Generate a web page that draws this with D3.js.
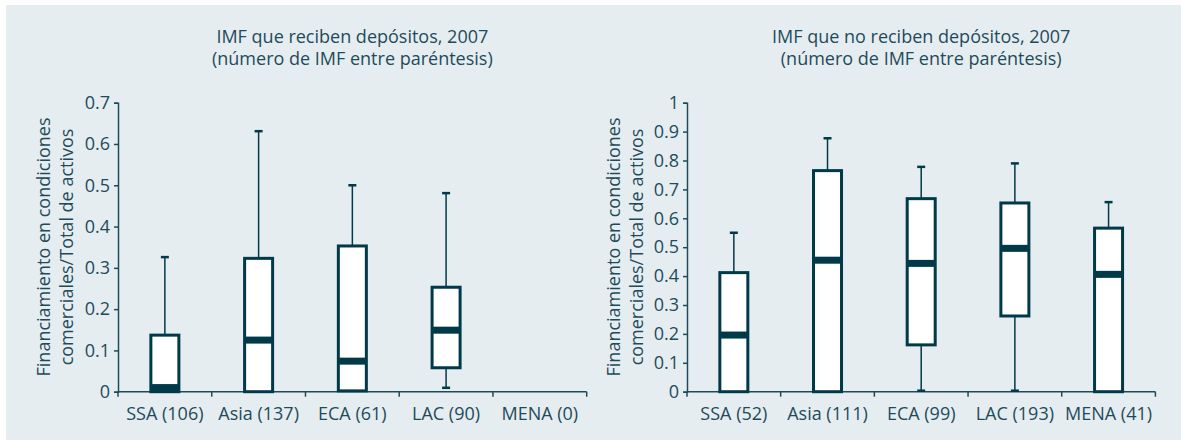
<!DOCTYPE html>
<html>
<head>
<meta charset="utf-8">
<script src="https://cdn.jsdelivr.net/npm/d3@7"></script>
<style>
  body { margin: 0; background: #fff; }
  svg { display: block; font-family: 'Open Sans', Lato, sans-serif; }
</style>
</head>
<body>
<div class="vis-boxplot"></div>
<script>
// left panel: IMF que reciben depósitos
const regionsLeft = ['SSA (106)', 'Asia (137)', 'ECA (61)', 'LAC (90)', 'MENA (0)'];
const hiLeft = [0.326, 0.631, 0.500, 0.481, null];
const q3Left = [0.137, 0.323, 0.353, 0.253, null];
const medLeft = [0.010, 0.125, 0.074, 0.149, null];
const q1Left = [0.000, 0.000, 0.002, 0.058, null];
const loLeft = [0.000, 0.000, 0.000, 0.007, null];
const ticksLeft = [0, 0.1, 0.2, 0.3, 0.4, 0.5, 0.6, 0.7];

// right panel: IMF que no reciben depósitos
const regionsRight = ['SSA (52)', 'Asia (111)', 'ECA (99)', 'LAC (193)', 'MENA (41)'];
const hiRight = [0.550, 0.877, 0.778, 0.790, 0.656];
const q3Right = [0.412, 0.765, 0.668, 0.653, 0.566];
const medRight = [0.196, 0.455, 0.444, 0.496, 0.406];
const q1Right = [0.000, 0.000, 0.162, 0.262, 0.000];
const loRight = [0.000, 0.000, 0.000, 0.000, 0.000];
const ticksRight = [0, 0.1, 0.2, 0.3, 0.4, 0.5, 0.6, 0.7, 0.8, 0.9, 1];

const yLabel = ['Financiamiento en condiciones', 'comerciales/Total de activos'];

const textColor = '#1e4b5a';
const boxColor = '#003a48';

const svg = d3.select('.vis-boxplot')
    .append('svg')
    .attr('width', 1181)
    .attr('height', 441);

svg.append('rect')
    .attr('x', 6).attr('y', 5)
    .attr('width', 1175).attr('height', 435)
    .attr('fill', '#e6edf1');

const drawPanel = (opts) => {
    const x = d3.scaleBand()
        .domain(opts.regions)
        .range([opts.left, opts.right])
        .padding(0);
    const y = d3.scaleLinear()
        .domain([0, opts.max])
        .range([391.7, 102.7]);

    const g = svg.append('g');
    const titleX = (opts.left + opts.right) / 2;

    // title, two lines
    g.selectAll('.title')
        .data(opts.title)
        .enter().append('text')
        .attr('x', titleX)
        .attr('y', (d, i) => 43 + i * 22)
        .attr('text-anchor', 'middle')
        .attr('fill', textColor)
        .style('font-size', '18px')
        .text(d => d);

    // y label
    const yl = g.append('text')
        .attr('transform', 'translate(' + opts.labelX + ',' + 247 + ') rotate(-90)')
        .attr('text-anchor', 'middle')
        .attr('fill', textColor)
        .style('font-size', '18px');
    yl.append('tspan').attr('x', 0).attr('y', 0).text(yLabel[0]);
    yl.append('tspan').attr('x', 0).attr('y', 23).text(yLabel[1]);

    // y axis
    const yAxis = g.append('g')
        .attr('transform', 'translate(' + opts.left + ',0)')
        .call(d3.axisLeft(y).tickValues(opts.ticks).tickSize(4).tickPadding(4)
            .tickFormat(d => d3.format('~g')(d)));
    yAxis.select('.domain').attr('stroke', textColor).attr('stroke-width', 1.5);
    yAxis.selectAll('.tick line').attr('stroke', textColor).attr('stroke-width', 1.5);
    yAxis.selectAll('.tick text').attr('fill', textColor)
        .style('font-size', '18px').style('font-family', "'Open Sans', sans-serif");

    // x axis with ticks at band boundaries
    const xAxis = g.append('g').attr('transform', 'translate(0,' + y(0) + ')');
    xAxis.append('line')
        .attr('x1', opts.left).attr('x2', opts.right)
        .attr('stroke', textColor).attr('stroke-width', 1.5);
    const bounds = opts.regions.map(r => x(r)).concat([opts.right]);
    xAxis.selectAll('.xt')
        .data(bounds)
        .enter().append('line')
        .attr('x1', d => d).attr('x2', d => d)
        .attr('y1', 0).attr('y2', 5)
        .attr('stroke', textColor).attr('stroke-width', 1.5);
    xAxis.selectAll('.xl')
        .data(opts.regions)
        .enter().append('text')
        .attr('x', d => x(d) + x.bandwidth() / 2)
        .attr('y', 28)
        .attr('text-anchor', 'middle')
        .attr('fill', textColor)
        .style('font-size', '18px')
        .text(d => d);

    const bw = 28;
    opts.regions.forEach((r, i) => {
        if (opts.hi[i] == null) return;
        const cx = x(r) + x.bandwidth() / 2;
        const b = g.append('g');
        // upper whisker
        b.append('line')
            .attr('x1', cx).attr('x2', cx)
            .attr('y1', y(opts.hi[i])).attr('y2', y(opts.q3[i]))
            .attr('stroke', boxColor).attr('stroke-width', 1.5);
        b.append('line')
            .attr('x1', cx - 4).attr('x2', cx + 4)
            .attr('y1', y(opts.hi[i])).attr('y2', y(opts.hi[i]))
            .attr('stroke', boxColor).attr('stroke-width', 2.5);
        // lower whisker
        if (opts.q1[i] > opts.lo[i]) {
            b.append('line')
                .attr('x1', cx).attr('x2', cx)
                .attr('y1', y(opts.q1[i])).attr('y2', y(opts.lo[i]))
                .attr('stroke', boxColor).attr('stroke-width', 1.5);
            b.append('line')
                .attr('x1', cx - 4).attr('x2', cx + 4)
                .attr('y1', y(opts.lo[i]) - 1).attr('y2', y(opts.lo[i]) - 1)
                .attr('stroke', boxColor).attr('stroke-width', 2.5);
        }
        // box
        b.append('rect')
            .attr('x', cx - bw / 2)
            .attr('y', y(opts.q3[i]))
            .attr('width', bw)
            .attr('height', y(opts.q1[i]) - y(opts.q3[i]))
            .attr('fill', '#fff')
            .attr('stroke', boxColor)
            .attr('stroke-width', 3);
        // median
        b.append('rect')
            .attr('x', cx - bw / 2)
            .attr('y', Math.min(y(opts.med[i]) - 3.5, y(0) - 7))
            .attr('width', bw)
            .attr('height', 7)
            .attr('fill', boxColor);
    });
};

drawPanel({
    regions: regionsLeft, hi: hiLeft, q3: q3Left, med: medLeft, q1: q1Left, lo: loLeft,
    ticks: ticksLeft, max: 0.7, left: 118, right: 586.7, labelX: 50,
    title: ['IMF que reciben depósitos, 2007', '(número de IMF entre paréntesis)']
});

drawPanel({
    regions: regionsRight, hi: hiRight, q3: q3Right, med: medRight, q1: q1Right, lo: loRight,
    ticks: ticksRight, max: 1, left: 687, right: 1155.4, labelX: 620,
    title: ['IMF que no reciben depósitos, 2007', '(número de IMF entre paréntesis)']
});
</script>
</body>
</html>
